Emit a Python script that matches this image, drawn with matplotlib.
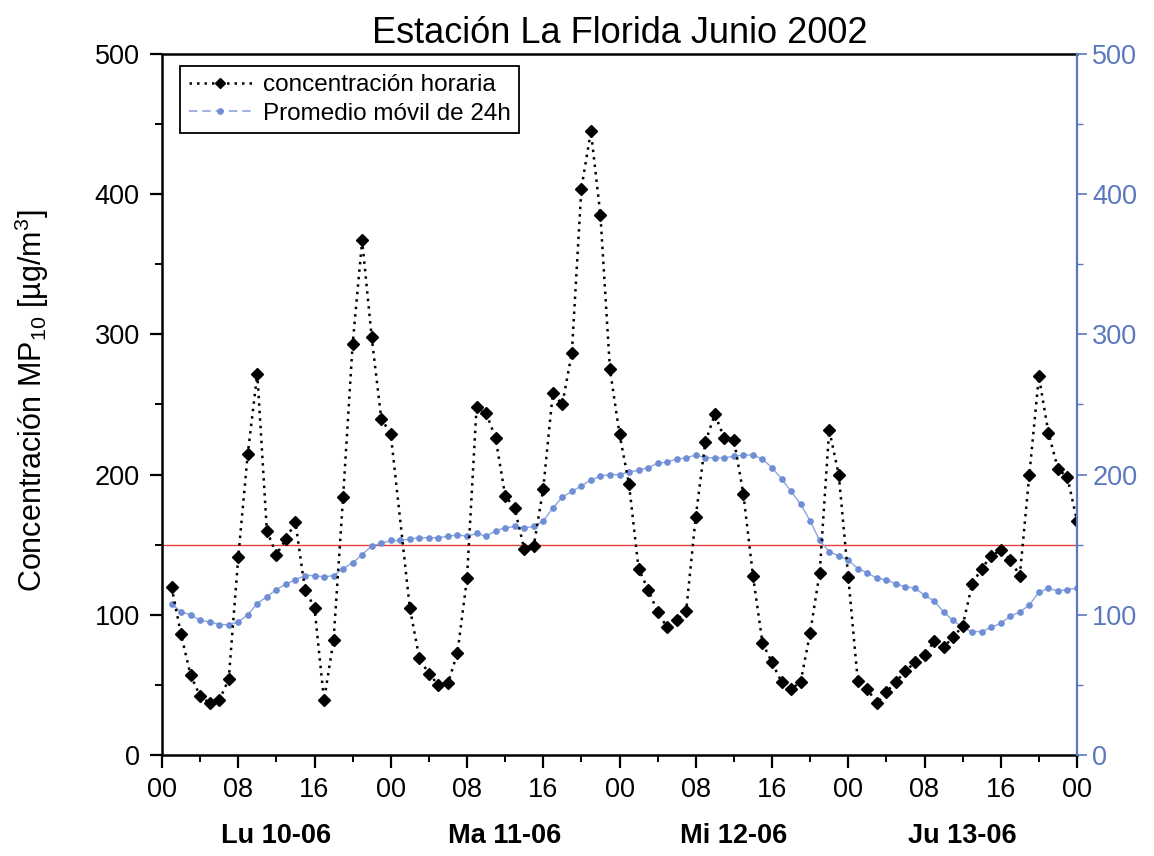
import matplotlib
matplotlib.use("Agg")
import matplotlib.pyplot as plt
from matplotlib.ticker import MultipleLocator, FixedLocator
from matplotlib.lines import Line2D
import matplotlib.transforms as mtransforms

plt.rcParams['font.family'] = ['Liberation Sans', 'DejaVu Sans']
plt.rcParams['mathtext.fontset'] = 'custom'
plt.rcParams['mathtext.rm'] = 'Liberation Sans'
plt.rcParams['mathtext.it'] = 'Liberation Sans:italic'

# ---------------- data ----------------
title = "Estación La Florida Junio 2002"
ylabel = "Concentración MP$_{10}$ [µg/m$^3$]"
series_names = ["concentración horaria", "Promedio móvil de 24h"]
day_labels = ["Lu 10-06", "Ma 11-06", "Mi 12-06", "Ju 13-06"]
day_label_hours = [12, 36, 60, 84]
xtick_hours = list(range(0, 97, 8))
xtick_labels = ["00", "08", "16"] * 4 + ["00"]
limit_value = 150

conc_hours = list(range(1, 25)) + list(range(26, 97))
conc_values = [120, 86, 57, 42, 37, 39, 54, 141, 215, 272, 160, 143, 154, 166, 118,
               105, 39, 82, 184, 293, 367, 298, 240, 229,
               105, 69, 58, 50, 51, 73, 126, 248, 244, 226, 185, 176, 147, 149, 190,
               258, 250, 287, 404, 445, 385, 275, 229, 193, 133, 118, 102, 91, 96,
               103, 170, 223, 243, 226, 225, 186, 128, 80, 66, 52, 47, 52, 87, 130,
               232, 200, 127, 53, 47, 37, 45, 52, 60, 66, 71, 81, 77, 84, 92, 122,
               133, 142, 146, 139, 128, 200, 270, 230, 204, 198, 167]

avg_hours = list(range(1, 97))
avg_values = [108, 102, 100, 96, 95, 93, 93, 95, 100, 108, 113, 118, 122, 125, 128,
              128, 127, 128, 133, 137, 143, 149, 151, 153, 153, 154, 155, 155, 155,
              156, 157, 156, 158, 156, 160, 162, 163, 162, 163, 167, 176, 184, 188,
              192, 196, 199, 200, 200, 202, 203, 205, 208, 209, 211, 212, 214, 212,
              212, 212, 213, 214, 214, 211, 205, 197, 188, 179, 167, 153, 145, 142,
              139, 133, 130, 126, 125, 122, 120, 119, 114, 110, 102, 96, 91, 88, 88,
              91, 94, 99, 102, 107, 116, 119, 117, 118, 119]

# ---------------- figure ----------------
W, H = 1154, 856
fig = plt.figure(figsize=(W / 100, H / 100), dpi=100)
left_px, right_px, top_px, bottom_px = 162, 1077, 54, 755
ax = fig.add_axes([left_px / W, 1 - bottom_px / H,
                   (right_px - left_px) / W, (bottom_px - top_px) / H])

blue_axis = '#5b78bf'
blue_line = '#8ea6dc'
blue_mark = '#6f8ed6'

ax.axhline(limit_value, color='#e8403a', lw=1.0, zorder=1)

ax.plot(conc_hours, conc_values, color='black', linestyle=(0, (1, 2.0)), lw=1.8,
        marker='D', markersize=6, markerfacecolor='black', markeredgecolor='black',
        zorder=3)
ax.plot(avg_hours, avg_values, color=blue_line, linestyle='-', lw=1.0,
        marker='o', markersize=3.8, markerfacecolor=blue_mark, markeredgecolor=blue_mark,
        zorder=2)

ax.set_xlim(0, 96)
ax.set_ylim(0, 500)

ax.xaxis.set_major_locator(FixedLocator(xtick_hours))
ax.set_xticklabels(xtick_labels)
ax.xaxis.set_minor_locator(MultipleLocator(4))
ax.yaxis.set_major_locator(MultipleLocator(100))
ax.yaxis.set_minor_locator(MultipleLocator(50))

ax.tick_params(axis='both', which='major', direction='out', length=9, width=1.6,
               labelsize=19.5, pad=7)
ax.tick_params(axis='both', which='minor', direction='out', length=5, width=1.4)
ax.tick_params(axis='y', which='both', right=False)
ax.tick_params(axis='x', which='both', top=False)

for s in ['left', 'bottom', 'top']:
    ax.spines[s].set_linewidth(1.8)
ax.spines['right'].set_visible(False)

ax2 = ax.twinx()
ax2.set_ylim(0, 500)
ax2.yaxis.set_major_locator(MultipleLocator(100))
ax2.yaxis.set_minor_locator(MultipleLocator(50))
ax2.tick_params(axis='y', which='major', direction='out', length=7, width=1.2,
                colors=blue_axis, labelsize=19.5, pad=4)
ax2.tick_params(axis='y', which='minor', direction='out', length=4, width=1.0,
                colors=blue_axis)
ax2.spines['right'].set_color(blue_axis)
ax2.spines['right'].set_linewidth(1.6)
for s in ['left', 'bottom', 'top']:
    ax2.spines[s].set_visible(False)

ax.set_title(title, fontsize=26, pad=8)
ax.set_ylabel(ylabel, fontsize=22)
ax.yaxis.set_label_coords(-0.121, 0.505)

trans = mtransforms.blended_transform_factory(ax.transData, ax.transAxes)
for h, lab in zip(day_label_hours, day_labels):
    ax.text(h, -0.116, lab, transform=trans, ha='center', va='center',
            fontsize=19.5, fontweight='bold')

handles = [
    Line2D([], [], color='black', linestyle=(0, (1, 2.0)), lw=1.8, marker='D',
           markersize=5.5, markerfacecolor='black'),
    Line2D([], [], color=blue_line, linestyle=(0, (5, 3)), lw=1.2, marker='o',
           markersize=3.8, markerfacecolor=blue_mark, markeredgecolor=blue_mark),
]
leg = ax.legend(handles, series_names, loc='upper left',
                bbox_to_anchor=(0.02, 0.983), fontsize=17.5, frameon=True,
                fancybox=False, framealpha=1, edgecolor='black',
                handlelength=2.6, handletextpad=0.45, borderpad=0.35,
                labelspacing=0.25, borderaxespad=0)
leg.get_frame().set_linewidth(1.3)

fig.savefig("out.png", dpi=100)
